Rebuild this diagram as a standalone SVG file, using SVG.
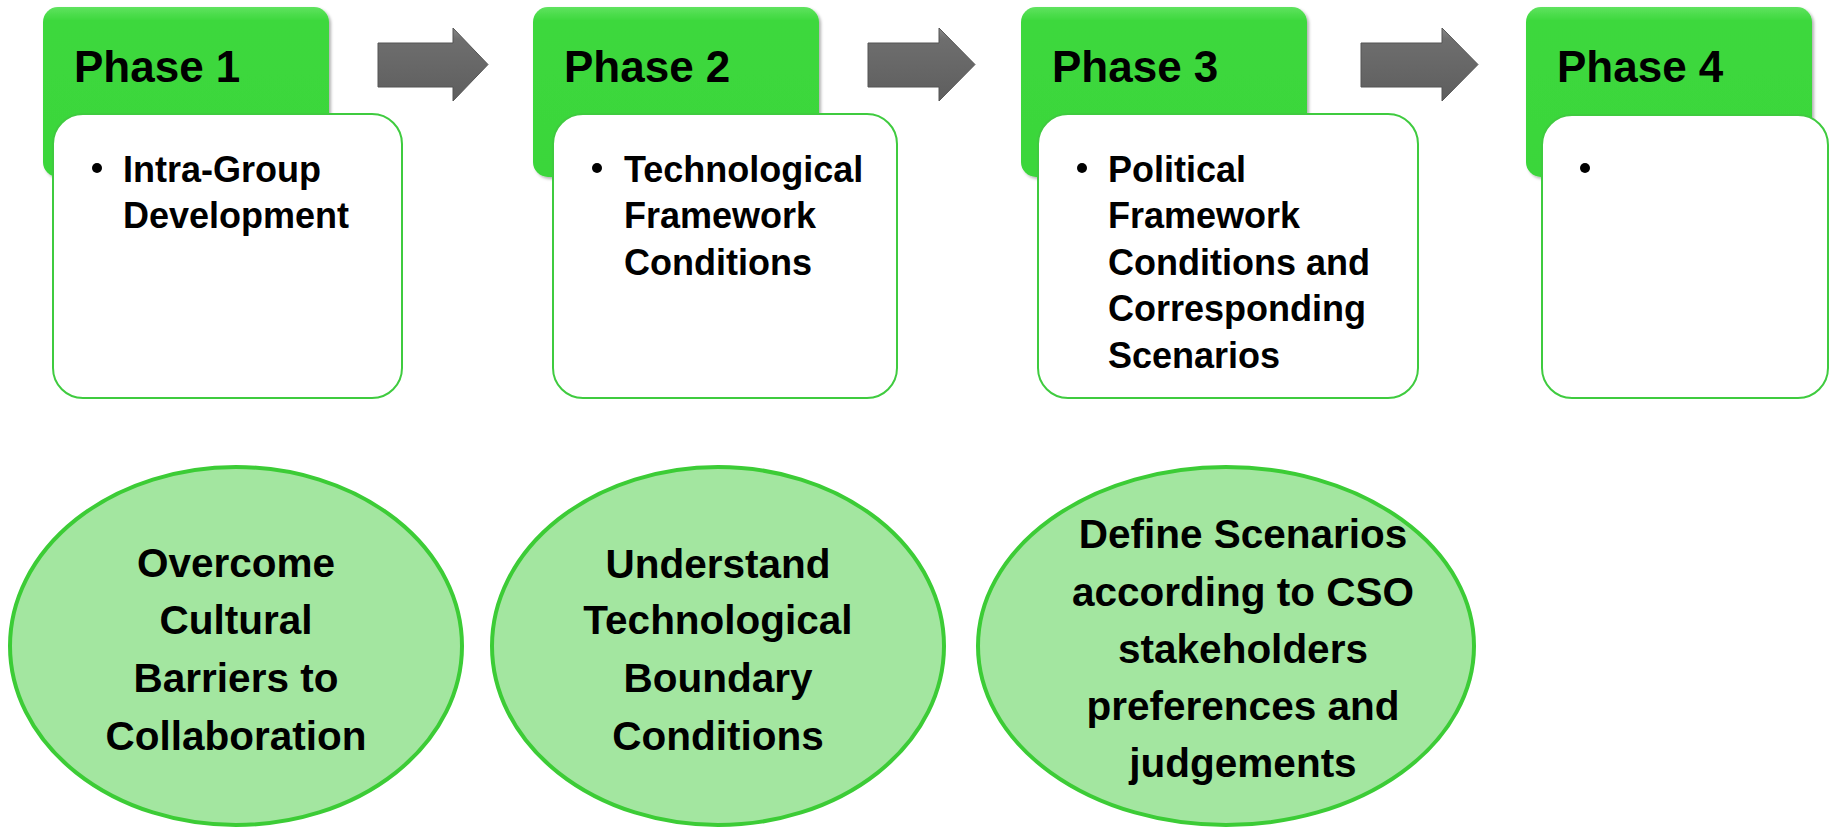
<svg xmlns="http://www.w3.org/2000/svg" width="1832" height="828" viewBox="0 0 1832 828">
<defs>
<linearGradient id="hdr" x1="0" y1="0" x2="0" y2="1">
<stop offset="0" stop-color="#5fe35f"/>
<stop offset="0.08" stop-color="#3dd83d"/>
<stop offset="1" stop-color="#3ad63a"/>
</linearGradient>
<linearGradient id="arr" x1="0" y1="0" x2="0" y2="1">
<stop offset="0" stop-color="#8a8a8a"/>
<stop offset="0.15" stop-color="#6e6e6e"/>
<stop offset="1" stop-color="#5e5e5e"/>
</linearGradient>
<filter id="sh" x="-5%" y="-5%" width="115%" height="115%">
<feDropShadow dx="2" dy="2" stdDeviation="1.5" flood-color="#000" flood-opacity="0.3"/>
</filter>
</defs>
<style>
.hdr{fill:url(#hdr);filter:url(#sh)}
.box{fill:#ffffff;stroke:#3fcb3f;stroke-width:2}
.ell{fill:#a3e6a0;stroke:#3ccc36;stroke-width:4}
.ph{font-family:"Liberation Sans",Arial,sans-serif;font-weight:bold;font-size:44px;fill:#000}
.bt{font-family:"Liberation Sans",Arial,sans-serif;font-weight:bold;font-size:36px;fill:#000}
.et{font-family:"Liberation Sans",Arial,sans-serif;font-weight:bold;font-size:40.5px;fill:#000;text-anchor:middle}
.arrow{fill:url(#arr);stroke:#555;stroke-width:1}
</style>
<rect width="1832" height="828" fill="#ffffff"/>

<g id="connectors">
<path class="arrow" d="M378,43 L453,43 L453,28 L488,64.5 L453,101 L453,87 L378,87 Z"/>
<path class="arrow" d="M868,43 L939,43 L939,28 L975,64.5 L939,101 L939,87 L868,87 Z"/>
<path class="arrow" d="M1361,43 L1442,43 L1442,28 L1478,64.5 L1442,101 L1442,87 L1361,87 Z"/>
</g>

<g id="phase1">
<rect class="hdr" x="43" y="7" width="286" height="170" rx="15"/>
<text class="ph" x="74" y="82">Phase 1</text>
<rect class="box" x="53" y="114" width="349" height="284" rx="30"/>
<circle cx="97" cy="168" r="5"/>
<text class="bt" x="123" y="182">Intra-Group</text>
<text class="bt" x="123" y="228">Development</text>
</g>

<g id="phase2">
<rect class="hdr" x="533" y="7" width="286" height="170" rx="15"/>
<text class="ph" x="564" y="82">Phase 2</text>
<rect class="box" x="553" y="114" width="344" height="284" rx="30"/>
<circle cx="597" cy="168" r="5"/>
<text class="bt" x="624" y="182">Technological</text>
<text class="bt" x="624" y="228">Framework</text>
<text class="bt" x="624" y="275">Conditions</text>
</g>

<g id="phase3">
<rect class="hdr" x="1021" y="7" width="286" height="170" rx="15"/>
<text class="ph" x="1052" y="82">Phase 3</text>
<rect class="box" x="1038" y="114" width="380" height="284" rx="30"/>
<circle cx="1082" cy="168" r="5"/>
<text class="bt" x="1108" y="182">Political</text>
<text class="bt" x="1108" y="228">Framework</text>
<text class="bt" x="1108" y="275">Conditions and</text>
<text class="bt" x="1108" y="321">Corresponding</text>
<text class="bt" x="1108" y="368">Scenarios</text>
</g>

<g id="phase4">
<rect class="hdr" x="1526" y="7" width="286" height="170" rx="15"/>
<text class="ph" x="1557" y="82">Phase 4</text>
<rect class="box" x="1542" y="115" width="286" height="283" rx="30"/>
<circle cx="1585" cy="168" r="5"/>
</g>

<g id="goal1">
<ellipse class="ell" cx="236" cy="646" rx="226" ry="179"/>
<text class="et" x="236" y="577">Overcome</text>
<text class="et" x="236" y="634">Cultural</text>
<text class="et" x="236" y="692">Barriers to</text>
<text class="et" x="236" y="750">Collaboration</text>
</g>

<g id="goal2">
<ellipse class="ell" cx="718" cy="646" rx="226" ry="179"/>
<text class="et" x="718" y="578">Understand</text>
<text class="et" x="718" y="634">Technological</text>
<text class="et" x="718" y="692">Boundary</text>
<text class="et" x="718" y="750">Conditions</text>
</g>

<g id="goal3">
<ellipse class="ell" cx="1226" cy="646" rx="248" ry="179"/>
<text class="et" x="1243" y="548">Define Scenarios</text>
<text class="et" x="1243" y="606">according to CSO</text>
<text class="et" x="1243" y="663">stakeholders</text>
<text class="et" x="1243" y="720">preferences and</text>
<text class="et" x="1243" y="777">judgements</text>
</g>
</svg>
